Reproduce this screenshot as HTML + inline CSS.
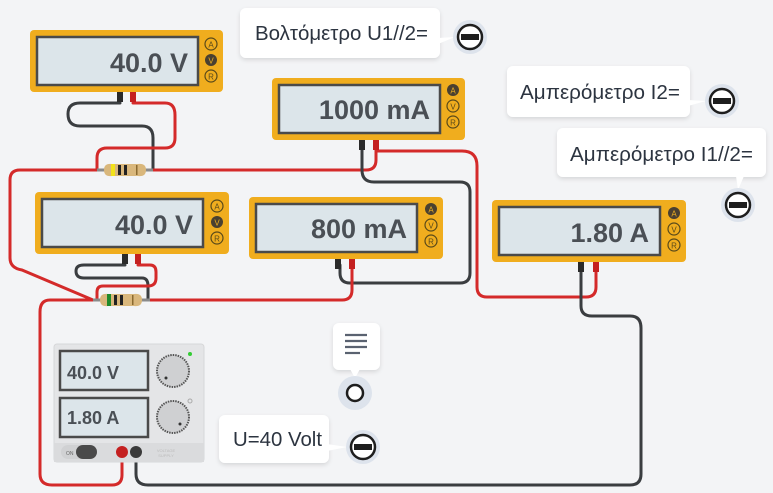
<!DOCTYPE html>
<html><head><meta charset="utf-8"><style>
body{margin:0;background:#f3f4f6;width:773px;height:493px;overflow:hidden}
svg{display:block}
.mt{font-family:"Liberation Sans",sans-serif;font-weight:bold;fill:#4a4f55}
.lb{font-family:"Liberation Sans","DejaVu Sans",sans-serif;font-size:20.5px;fill:#2c3440}
</style></head><body>
<svg width="773" height="493" viewBox="0 0 773 493" xmlns="http://www.w3.org/2000/svg">
<defs>
<filter id="sh" x="-10%" y="-10%" width="120%" height="140%"><feDropShadow dx="0" dy="2" stdDeviation="2" flood-color="#000" flood-opacity="0.12"/></filter>
<g id="btns">
<circle cx="0" cy="0" r="6" fill="none" stroke="#5a4a1a" stroke-width="1.2"/>
<text x="0" y="3.5" font-size="8" text-anchor="middle" font-family="Liberation Sans" fill="#5a4a1a">A</text>
<circle cx="0" cy="16" r="6" fill="#4a4030"/>
<text x="0" y="19.5" font-size="8" text-anchor="middle" font-family="Liberation Sans" fill="#f0b020">V</text>
<circle cx="0" cy="32" r="6" fill="none" stroke="#5a4a1a" stroke-width="1.2"/>
<text x="0" y="35.5" font-size="8" text-anchor="middle" font-family="Liberation Sans" fill="#5a4a1a">R</text>
</g>
<g id="btnsA">
<circle cx="0" cy="0" r="6" fill="#4a4030"/>
<text x="0" y="3.5" font-size="8" text-anchor="middle" font-family="Liberation Sans" fill="#f0b020">A</text>
<circle cx="0" cy="16" r="6" fill="none" stroke="#5a4a1a" stroke-width="1.2"/>
<text x="0" y="19.5" font-size="8" text-anchor="middle" font-family="Liberation Sans" fill="#5a4a1a">V</text>
<circle cx="0" cy="32" r="6" fill="none" stroke="#5a4a1a" stroke-width="1.2"/>
<text x="0" y="35.5" font-size="8" text-anchor="middle" font-family="Liberation Sans" fill="#5a4a1a">R</text>
</g>
<g id="minus">
<circle r="17" fill="#dde3ec"/>
<circle r="12" fill="#fff" stroke="#1e1e1e" stroke-width="2.5"/>
<rect x="-9" y="-3" width="18" height="6" fill="#1e1e1e"/>
</g>
</defs>

<g fill="none" stroke-width="3" stroke-linecap="round" stroke-linejoin="round">
<path d="M120 103 H80 Q68 103 68 114 Q68 126 80 126 H142 Q153 126 153 138 V170" stroke="#3a3d40"/>
<path d="M133 103 H165 Q175 103 175 115 V138 Q175 148 165 148 H107 Q97 148 97 158 V170" stroke="#d42a2a"/>
<path d="M153 170 H366 Q376 170 376 160 V150" stroke="#d42a2a"/>
<path d="M97 170 H20 Q10 170 10 180 V258 Q10 268 22 270 L93 300" stroke="#d42a2a"/>
<path d="M376 151 H462 Q477 151 477 166 V287 Q477 297 487 297 H586 Q596 297 596 287 V265" stroke="#d42a2a"/>
<path d="M362 150 V170 Q362 182 374 182 H460 Q470 182 470 192 V273 Q470 283 460 283 H350 Q340 283 340 273 V265" stroke="#3a3d40"/>
<path d="M352 265 V290 Q352 300 342 300 H150" stroke="#d42a2a"/>
<path d="M125 265 H84 Q76 265 76 271 Q76 278 84 278 H142 Q148 278 148 286 V300" stroke="#3a3d40"/>
<path d="M138 265 H150 Q156 265 156 272 V278 Q156 286 148 286 H103 Q97 286 97 292 V300" stroke="#d42a2a"/>
<path d="M93 300 H50 Q40 300 40 312 V474 Q40 485 52 485 H112 Q122 485 122 475 V452" stroke="#d42a2a"/>
<path d="M136 452 V474 Q136 485 148 485 H630 Q641 485 641 474 V328 Q641 316 630 316 H592 Q581 316 581 306 V265" stroke="#3a3d40"/>
</g>

<g>
<line x1="97" y1="170" x2="153" y2="170" stroke="#8a8a8a" stroke-width="3"/>
<path d="M104 170 Q104 163 112 164 H138 Q146 163 146 170 Q146 177 138 176 H112 Q104 177 104 170Z" fill="#d9b77c"/>
<rect x="111" y="164" width="4" height="12" fill="#f2e21a"/>
<rect x="118" y="165" width="3" height="10" fill="#222"/>
<rect x="124" y="165" width="3" height="10" fill="#222"/>
<rect x="136" y="165" width="1.5" height="10" fill="#8a6a30"/>
</g>
<g>
<line x1="93" y1="300" x2="150" y2="300" stroke="#8a8a8a" stroke-width="3"/>
<path d="M100 300 Q100 293 108 294 H134 Q142 293 142 300 Q142 307 134 306 H108 Q100 307 100 300Z" fill="#d9b77c"/>
<rect x="107" y="294" width="4" height="12" fill="#1f8a2a"/>
<rect x="114" y="295" width="3" height="10" fill="#222"/>
<rect x="120" y="295" width="3" height="10" fill="#222"/>
<rect x="132" y="295" width="1.5" height="10" fill="#8a6a30"/>
</g>

<g>
<rect x="30" y="30" width="193" height="62" rx="4" fill="#f0ad1e"/>
<rect x="37" y="37" width="161" height="48" fill="#dce5ea" stroke="#4a4a4a" stroke-width="2.5"/>
<text class="mt" x="188" y="72" font-size="27" text-anchor="end">40.0 V</text>
<use href="#btns" x="211" y="44"/>
<rect x="117" y="92" width="6" height="10" fill="#2a2a2a"/><rect x="130" y="92" width="6" height="10" fill="#c42020"/>
</g>
<g>
<rect x="35" y="192" width="194" height="62" rx="4" fill="#f0ad1e"/>
<rect x="42" y="199" width="161" height="48" fill="#dce5ea" stroke="#4a4a4a" stroke-width="2.5"/>
<text class="mt" x="193" y="234" font-size="27" text-anchor="end">40.0 V</text>
<use href="#btns" x="217" y="206"/>
<rect x="122" y="254" width="6" height="10" fill="#2a2a2a"/><rect x="135" y="254" width="6" height="10" fill="#c42020"/>
</g>
<g>
<rect x="272" y="78" width="193" height="62" rx="4" fill="#f0ad1e"/>
<rect x="279" y="85" width="161" height="48" fill="#dce5ea" stroke="#4a4a4a" stroke-width="2.5"/>
<text class="mt" x="430" y="119" font-size="27" text-anchor="end">1000 mA</text>
<use href="#btnsA" x="453" y="90"/>
<rect x="359" y="140" width="6" height="10" fill="#2a2a2a"/><rect x="373" y="140" width="6" height="10" fill="#c42020"/>
</g>
<g>
<rect x="249" y="197" width="194" height="62" rx="4" fill="#f0ad1e"/>
<rect x="256" y="204" width="161" height="48" fill="#dce5ea" stroke="#4a4a4a" stroke-width="2.5"/>
<text class="mt" x="407" y="238" font-size="27" text-anchor="end">800 mA</text>
<use href="#btnsA" x="431" y="209"/>
<rect x="335" y="259" width="6" height="10" fill="#2a2a2a"/><rect x="349" y="259" width="6" height="10" fill="#c42020"/>
</g>
<g>
<rect x="492" y="200" width="194" height="62" rx="4" fill="#f0ad1e"/>
<rect x="499" y="207" width="161" height="48" fill="#dce5ea" stroke="#4a4a4a" stroke-width="2.5"/>
<text class="mt" x="649" y="242" font-size="27" text-anchor="end">1.80 A</text>
<use href="#btnsA" x="674" y="213"/>
<rect x="578" y="262" width="6" height="10" fill="#2a2a2a"/><rect x="593" y="262" width="6" height="10" fill="#c42020"/>
</g>

<g>
<rect x="54" y="344" width="150" height="118" rx="3" fill="#e4e5e7" stroke="#d6d7d9"/>
<rect x="54" y="443" width="150" height="19" fill="#dadbdd"/>
<rect x="60" y="351" width="88" height="39" fill="#dce5ea" stroke="#4a4a4a" stroke-width="2.5"/>
<text class="mt" x="67" y="379" font-size="18">40.0 V</text>
<rect x="60" y="398" width="88" height="39" fill="#dce5ea" stroke="#4a4a4a" stroke-width="2.5"/>
<text class="mt" x="67" y="424" font-size="18">1.80 A</text>
<circle cx="173" cy="371" r="16" fill="#cfd0d2" stroke="#555" stroke-width="2" stroke-dasharray="1.5 1"/>
<circle cx="166" cy="378" r="1.5" fill="#333"/>
<circle cx="173" cy="417" r="16" fill="#cfd0d2" stroke="#555" stroke-width="2" stroke-dasharray="1.5 1"/>
<circle cx="180" cy="424" r="1.5" fill="#333"/>
<circle cx="190" cy="354" r="2" fill="#3c3"/>
<circle cx="190" cy="401" r="2" fill="none" stroke="#aaa"/>
<rect x="61" y="445" width="36" height="14" rx="7" fill="#d0d1d3"/>
<rect x="76" y="445" width="21" height="14" rx="7" fill="#4a4a4a"/>
<text x="66" y="455" font-size="5" font-family="Liberation Sans" fill="#666">ON</text>
<circle cx="122" cy="452" r="6" fill="#c42020"/>
<circle cx="136" cy="452" r="6" fill="#3a3a3a"/>
<text x="166" y="452" font-size="4" font-family="Liberation Sans" fill="#bbb" text-anchor="middle">VOLTAGE</text>
<text x="166" y="457" font-size="4" font-family="Liberation Sans" fill="#bbb" text-anchor="middle">SUPPLY</text>
</g>

<g filter="url(#sh)">
<rect x="240" y="8" width="200" height="50" rx="6" fill="#fff"/>
<rect x="507" y="66" width="183" height="51" rx="6" fill="#fff"/>
<rect x="557" y="128" width="209" height="49" rx="6" fill="#fff"/>
<rect x="333" y="323" width="47" height="47" rx="6" fill="#fff"/>
<rect x="219" y="415" width="110" height="48" rx="6" fill="#fff"/>
</g>
<path d="M438 38 L455 37 L438 44Z" fill="#fff"/>
<path d="M688 100 L706 101 L688 106Z" fill="#fff"/>
<path d="M736 176 L738 190 L744 176Z" fill="#fff"/>
<path d="M350 369 L355 378 L360 369Z" fill="#fff"/>
<path d="M327 444 L347 447 L327 451Z" fill="#fff"/>
<text class="lb" x="255" y="40" textLength="173" lengthAdjust="spacingAndGlyphs">Βολτόμετρο U1//2=</text>
<text class="lb" x="520" y="99" textLength="160" lengthAdjust="spacingAndGlyphs">Αμπερόμετρο I2=</text>
<text class="lb" x="570" y="161" textLength="183" lengthAdjust="spacingAndGlyphs">Αμπερόμετρο I1//2=</text>
<text class="lb" x="233" y="446" textLength="89" lengthAdjust="spacingAndGlyphs">U=40 Volt</text>
<g stroke="#5a6270" stroke-width="2.2">
<line x1="345" y1="335" x2="367" y2="335"/><line x1="345" y1="341" x2="367" y2="341"/><line x1="345" y1="347" x2="367" y2="347"/><line x1="345" y1="353" x2="360" y2="353"/>
</g>
<use href="#minus" x="470" y="37"/>
<use href="#minus" x="722" y="101"/>
<use href="#minus" x="738" y="205"/>
<use href="#minus" x="363" y="447"/>
<circle cx="355" cy="393" r="17" fill="#dde3ec"/>
<circle cx="355" cy="393" r="8" fill="#fff" stroke="#1e1e1e" stroke-width="2.5"/>
</svg>
</body></html>
